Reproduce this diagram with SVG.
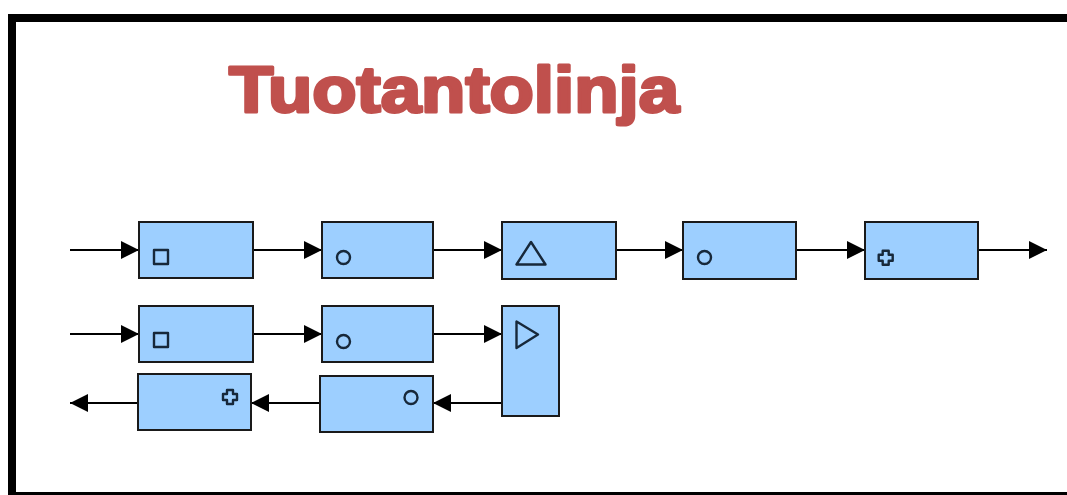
<svg xmlns="http://www.w3.org/2000/svg" width="1067" height="495" viewBox="0 0 1067 495">
<style>
.box{fill:#9dcfff;stroke:#1a1a1a;stroke-width:2}
.sym{fill:none;stroke:#17283a;stroke-width:2.4;stroke-linejoin:round}
.con{fill:none;stroke:#000;stroke-width:2;marker-end:url(#ah)}
</style>
<defs>
<marker id="ah" markerUnits="userSpaceOnUse" markerWidth="19" markerHeight="19" refX="18" refY="9" orient="auto" viewBox="0 0 19 19">
<path d="M0,0 L18,9 L0,18 z" fill="#000"/>
</marker>
</defs>
<rect x="0" y="0" width="1067" height="495" fill="#fff"/>
<rect id="frame" x="12" y="18" width="1100" height="478" fill="none" stroke="#000" stroke-width="8"/>
<text id="title" x="229" y="112" font-family="Liberation Sans, Arial, sans-serif" font-weight="bold" font-size="64" fill="#c0504d" stroke="#c0504d" stroke-width="3" stroke-linejoin="round" textLength="450" lengthAdjust="spacingAndGlyphs">Tuotantolinja</text>
<g id="connectors">
<path class="con" d="M70,250 H139"/>
<path class="con" d="M253,250 H322"/>
<path class="con" d="M433,250 H502"/>
<path class="con" d="M616,250 H683"/>
<path class="con" d="M796,250 H865"/>
<path class="con" d="M978,250 H1047"/>
<path class="con" d="M70,334 H139"/>
<path class="con" d="M253,334 H322"/>
<path class="con" d="M433,334 H502"/>
<path class="con" d="M502,403 H433"/>
<path class="con" d="M320,403 H251"/>
<path class="con" d="M138,403 H70"/>
</g>
<g id="n1"><rect class="box" x="139" y="222" width="114" height="56"/><rect class="sym" x="154" y="250" width="14" height="14"/></g>
<g id="n2"><rect class="box" x="322" y="222" width="111" height="56"/><circle class="sym" cx="343.5" cy="257.5" r="6.5"/></g>
<g id="n3"><rect class="box" x="502" y="222" width="114" height="57"/><polygon class="sym" points="516.5,264.5 545.5,264.5 531,242"/></g>
<g id="n4"><rect class="box" x="683" y="222" width="113" height="57"/><circle class="sym" cx="704.5" cy="257.5" r="6.5"/></g>
<g id="n5"><rect class="box" x="865" y="222" width="113" height="57"/><path class="sym" d="M882.7,250.7 h6 v4 h4 v6 h-4 v4 h-6 v-4 h-4 v-6 h4 z"/></g>
<g id="n6"><rect class="box" x="139" y="306" width="114" height="56"/><rect class="sym" x="154" y="333" width="14" height="14"/></g>
<g id="n7"><rect class="box" x="322" y="306" width="111" height="56"/><circle class="sym" cx="343.5" cy="341.5" r="6.5"/></g>
<g id="n8"><rect class="box" x="502" y="306" width="57" height="110"/><polygon class="sym" points="516.5,321.5 516.5,348 538,334.5"/></g>
<g id="n9"><rect class="box" x="320" y="376" width="113" height="56"/><circle class="sym" cx="411" cy="397.5" r="6.5"/></g>
<g id="n10"><rect class="box" x="138" y="374" width="113" height="56"/><path class="sym" d="M227,390 h6 v4 h4 v6 h-4 v4 h-6 v-4 h-4 v-6 h4 z"/></g>
</svg>
